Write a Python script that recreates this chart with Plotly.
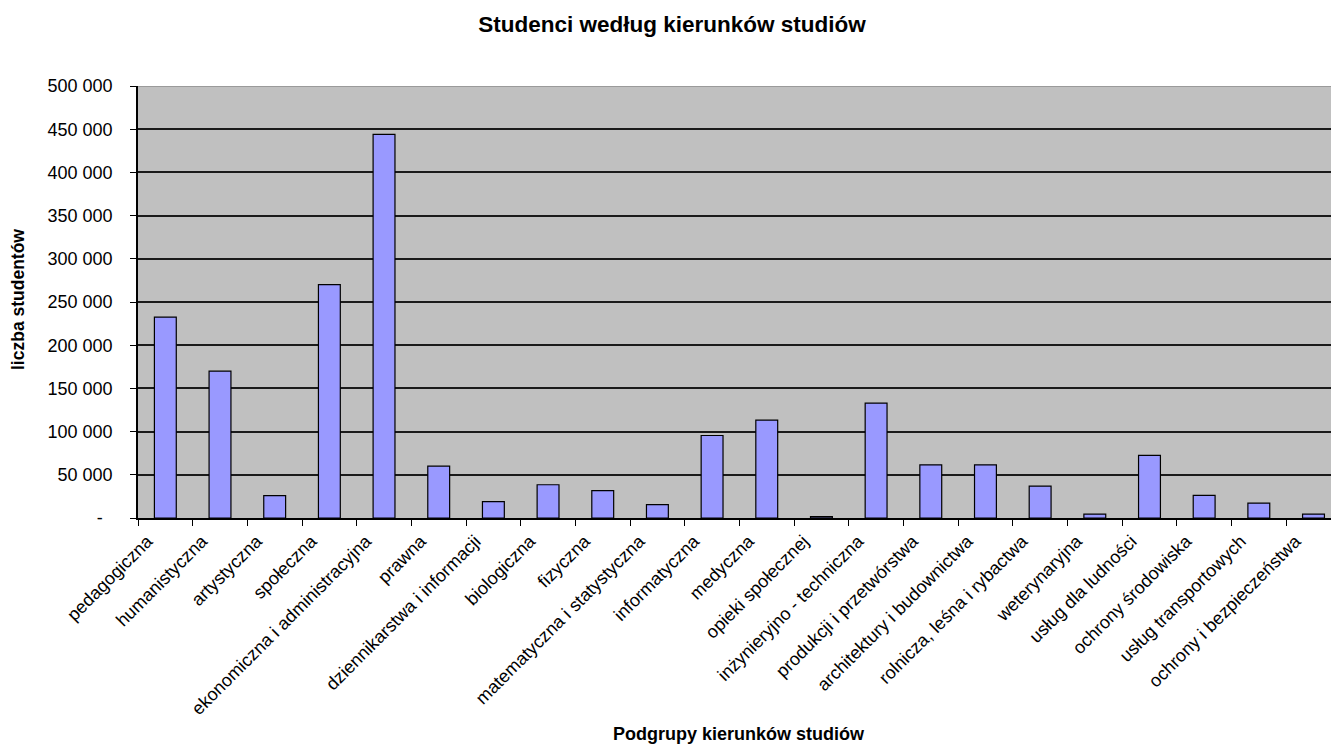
import plotly.graph_objects as go

categories = [
    "pedagogiczna", "humanistyczna", "artystyczna", "społeczna",
    "ekonomiczna i administracyjna", "prawna", "dziennikarstwa i informacji",
    "biologiczna", "fizyczna", "matematyczna i statystyczna", "informatyczna",
    "medyczna", "opieki społecznej", "inżynieryjno - techniczna",
    "produkcji i przetwórstwa", "architektury i budownictwa",
    "rolnicza, leśna i rybactwa", "weterynaryjna", "usług dla ludności",
    "ochrony środowiska", "usług transportowych", "ochrony i bezpieczeństwa",
]
students = [
    232500, 170000, 26000, 270000, 444000, 60000, 19000, 38500, 31600, 15400,
    95500, 113300, 1500, 133000, 61600, 61600, 37000, 4600, 72400, 26100,
    17300, 4600,
]
y_tick_values = [0, 50000, 100000, 150000, 200000, 250000, 300000, 350000, 400000, 450000, 500000]
y_tick_labels = ["-  ", "50 000", "100 000", "150 000", "200 000", "250 000",
                 "300 000", "350 000", "400 000", "450 000", "500 000"]

title_text = "Studenci według kierunków studiów"
x_title = "Podgrupy kierunków studiów"
y_title = "liczba studentów"

FONT = "Liberation Sans, Arial, sans-serif"
W, H = 1331, 744
ML, MR, MT, MB = 138, 0, 86, 226

fig = go.Figure(go.Bar(
    x=categories, y=students,
    marker=dict(color="#9999FF", line=dict(color="#000000", width=1.2)),
))

fig.update_layout(
    width=W, height=H,
    margin=dict(l=ML, r=MR, t=MT, b=MB, autoexpand=False),
    paper_bgcolor="white", plot_bgcolor="#C0C0C0",
    bargap=0.6, showlegend=False,
    font=dict(family=FONT, color="#000000"),
    title=dict(text="<b>" + title_text + "</b>", x=672 / W, xanchor="center",
               y=1 - 24 / H, yanchor="middle", yref="container",
               font=dict(size=22.5, family=FONT, color="#000")),
)
fig.update_xaxes(
    type="category", range=[-0.5, 21.32],
    tickangle=-45, tickfont=dict(size=18, family=FONT, color="#000"),
    ticklabelshift=-18, ticklabelstandoff=4,
    showline=True, linecolor="#000", linewidth=1.5,
    ticks="outside", ticklen=6, tickwidth=1.2, tickcolor="#000",
    tickson="boundaries", showgrid=False, automargin=False,
)
fig.update_yaxes(
    range=[0, 500000], tickvals=y_tick_values, ticktext=y_tick_labels,
    tickfont=dict(size=18, family=FONT, color="#000"),
    showline=True, linecolor="#000", linewidth=1.5,
    ticks="outside", ticklen=6, tickwidth=1.2, tickcolor="#000",
    ticklabelstandoff=14,
    showgrid=True, gridcolor="#1a1a1a", gridwidth=1.5,
    zeroline=False, automargin=False,
)
fig.add_hline(y=y_tick_values[-1], line=dict(color="#9a9a9a", width=2))
fig.add_annotation(text="<b>" + x_title + "</b>", xref="paper", yref="paper",
                   x=(739 - ML) / (W - ML - MR), y=-(734 - (H - MB)) / (H - MT - MB),
                   xanchor="center", yanchor="middle", showarrow=False,
                   font=dict(size=18, family=FONT, color="#000"))
fig.add_annotation(text="<b>" + y_title + "</b>", xref="paper", yref="paper",
                   x=-(ML - 18) / (W - ML - MR), y=(H - MB - 300) / (H - MT - MB),
                   xanchor="center", yanchor="middle", textangle=-90, showarrow=False,
                   font=dict(size=17.5, family=FONT, color="#000"))

fig.write_html("out.html", config={"displayModeBar": False})
with open("out.html", encoding="utf-8") as f:
    html = f.read()
html = html.replace("<body>", '<body style="margin:0;padding:0;overflow:hidden">', 1)
with open("out.html", "w", encoding="utf-8") as f:
    f.write(html)
